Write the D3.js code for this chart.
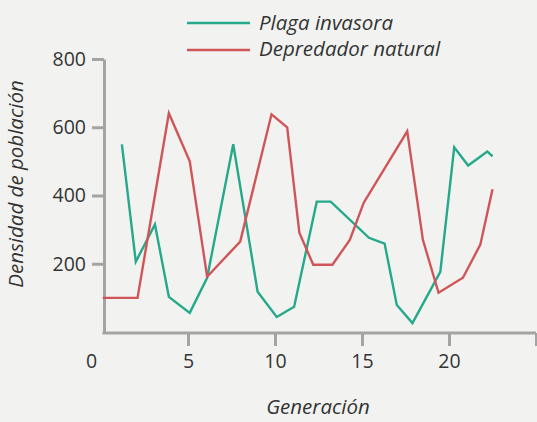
<!DOCTYPE html>
<html>
<head>
<meta charset="utf-8">
<script src="https://cdn.jsdelivr.net/npm/d3@7"></script>
<style>
  body { margin: 0; background: #f2f3f1; }
  text { font-family: "Open Sans", sans-serif; fill: #333; }
</style>
</head>
<body>
<div id="chart"></div>
<script>
// Plaga invasora (green) — generation / density
const plagaGen = [1.2, 2.0, 3.1, 3.9, 5.1, 6.1, 7.6, 9.0, 10.1, 11.1, 12.4, 13.2, 15.4, 16.3, 17.0, 17.9, 19.5, 20.3, 21.1, 22.2, 22.5]
const plagaVal = [550, 206, 315, 103, 56, 159, 550, 118, 44, 74, 382, 382, 276, 259, 79, 26, 176, 541, 488, 529, 515]

// Depredador natural (red)
const depGen = [0.1, 2.1, 3.9, 5.1, 6.1, 8.0, 9.8, 10.7, 11.4, 12.2, 13.3, 14.3, 15.1, 17.6, 18.5, 19.4, 20.8, 21.8, 22.5]
const depVal = [100, 100, 641, 500, 162, 265, 638, 600, 291, 197, 197, 270, 379, 588, 270, 115, 159, 256, 418]

const xTicks = [0, 5, 10, 15, 20, 25]
const yTicks = [200, 400, 600, 800]
const seriesNames = ["Plaga invasora", "Depredador natural"]

var width = 537,
    height = 422

var svg = d3.select("#chart").append("svg")
    .attr("width", width)
    .attr("height", height)

svg.append("rect")
    .attr("width", width)
    .attr("height", height)
    .attr("fill", "#f2f3f1")

const x = d3.scaleLinear().domain([0, 25]).range([101, 536])
const y = d3.scaleLinear().domain([0, 800]).range([332, 59])
const col = d3.scaleOrdinal().domain(seriesNames).range(["#26a88a", "#cf5558"])

const axisCol = "#a4a4a4"

// y axis
const yAxis = svg.append("g")
    .attr("transform", "translate(104,0)")
    .call(d3.axisLeft(y).tickValues(yTicks).tickSize(12).tickSizeOuter(0).tickPadding(6))
yAxis.select(".domain").attr("stroke", axisCol).attr("stroke-width", 3)
yAxis.selectAll(".tick line").attr("stroke", axisCol).attr("stroke-width", 3)
yAxis.selectAll(".tick text").style("font-size", "19.5px").attr("fill", "#3a3a3a")

// x axis
const xAxis = svg.append("g")
    .attr("transform", "translate(0,333)")
    .call(d3.axisBottom(x).tickValues(xTicks).tickSize(13).tickSizeOuter(0).tickPadding(8))
xAxis.select(".domain").attr("stroke", axisCol).attr("stroke-width", 3).attr("d", "M102.5,0H536")
xAxis.selectAll(".tick line").attr("stroke", axisCol).attr("stroke-width", 3)
    .attr("y2", d => d == 0 ? 0 : 13)
xAxis.selectAll(".tick text").style("font-size", "19.5px").attr("fill", "#3a3a3a")
    .attr("dx", d => d == 0 ? -10 : 0)
xAxis.selectAll(".tick").filter(d => d == 25).select("text").remove()

// axis titles
svg.append("text")
    .attr("transform", "translate(23,184) rotate(-90)")
    .attr("text-anchor", "middle")
    .style("font-size", "20.5px")
    .style("font-style", "italic")
    .text("Densidad de población")

svg.append("text")
    .attr("x", 318)
    .attr("y", 414)
    .attr("text-anchor", "middle")
    .style("font-size", "20.5px")
    .style("font-style", "italic")
    .text("Generación")

// lines
const line = d3.line().x(d => x(d[0])).y(d => y(d[1]))

const series = [
    {name: seriesNames[0], pts: d3.zip(plagaGen, plagaVal)},
    {name: seriesNames[1], pts: d3.zip(depGen, depVal)}
]

svg.append("g")
    .selectAll("path")
    .data(series)
    .enter()
    .append("path")
    .attr("d", d => line(d.pts))
    .attr("fill", "none")
    .attr("stroke", d => col(d.name))
    .attr("stroke-width", 2.4)
    .attr("stroke-linejoin", "miter")

// legend
svg.selectAll("legendLine")
    .data(seriesNames)
    .enter()
    .append("line")
    .attr("x1", 187)
    .attr("x2", 250)
    .attr("y1", (d, i) => 23 + i * 27)
    .attr("y2", (d, i) => 23 + i * 27)
    .attr("stroke", d => col(d))
    .attr("stroke-width", 2.4)

svg.selectAll("legendText")
    .data(seriesNames)
    .enter()
    .append("text")
    .attr("x", 259)
    .attr("y", (d, i) => 30 + i * 26)
    .style("font-size", "20.5px")
    .style("font-style", "italic")
    .text(d => d)
</script>
</body>
</html>
